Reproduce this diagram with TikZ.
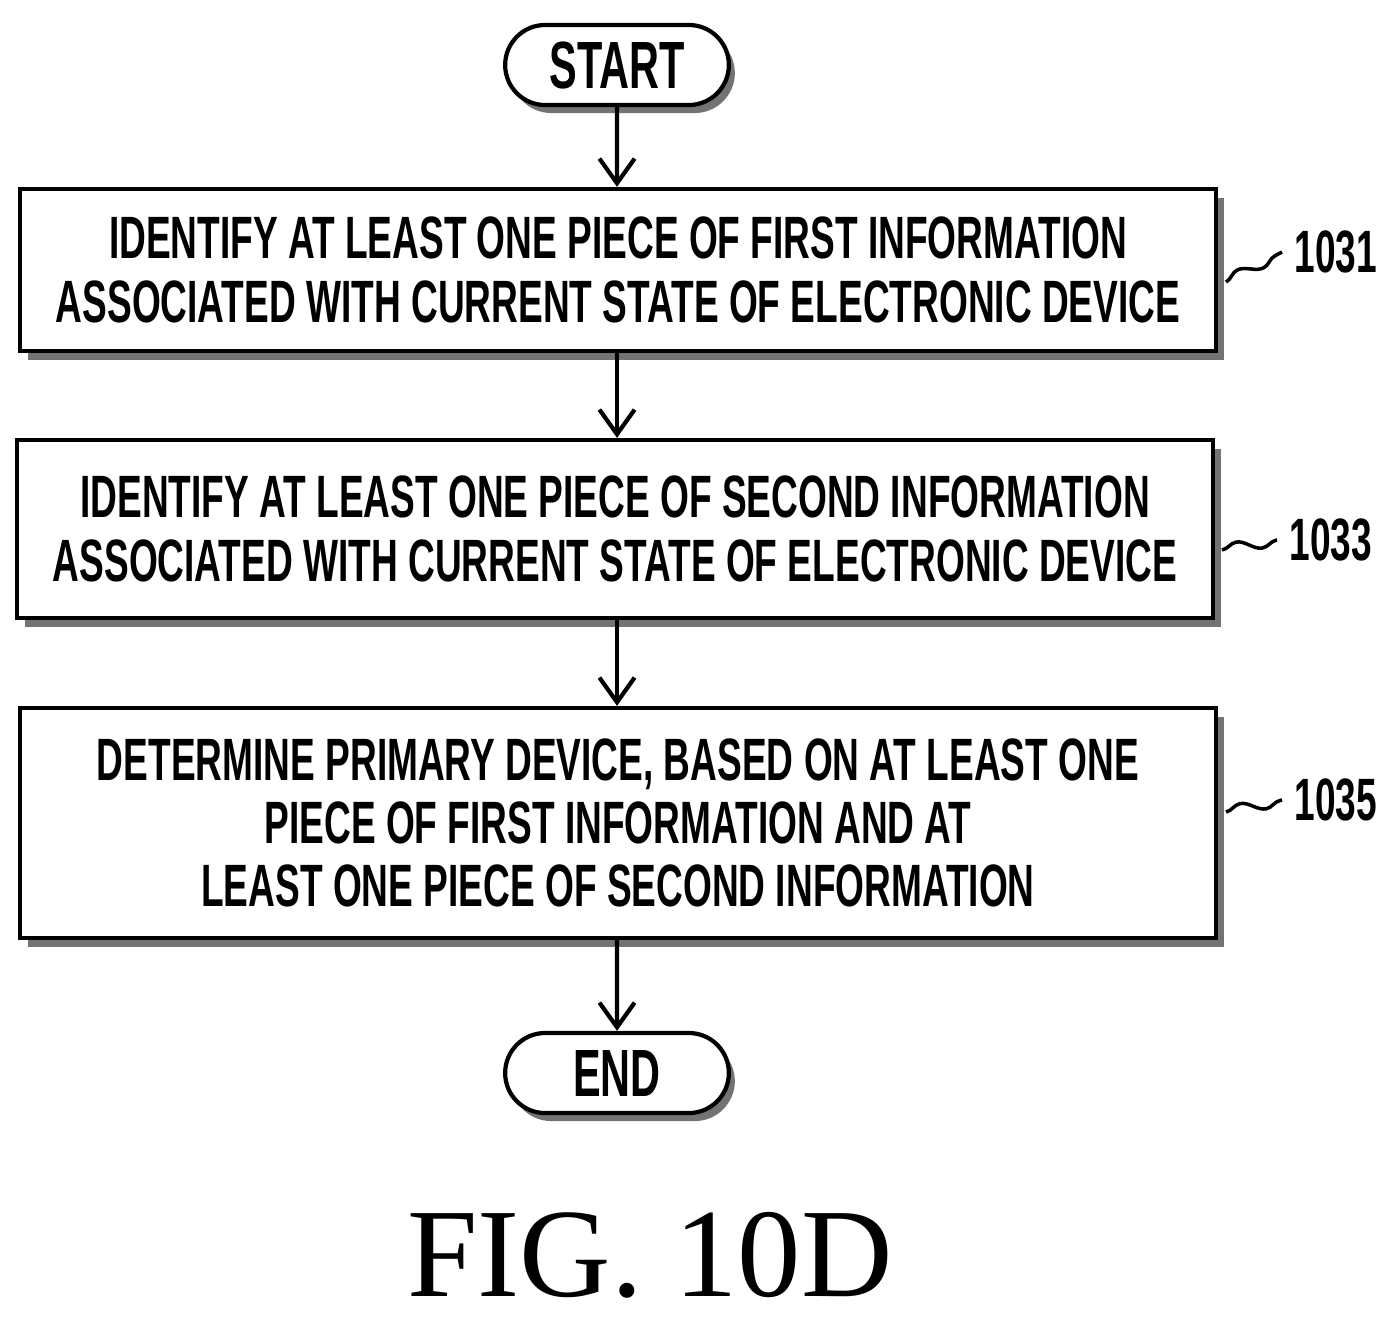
\documentclass[tikz,border=0pt]{standalone}
\usepackage{fontspec}
\setmainfont{Liberation Serif}
\newfontfamily\boxfont[FakeStretch=0.62]{Liberation Sans}
\usetikzlibrary{arrows.meta,shapes,positioning,calc,shadows,decorations.pathmorphing}

\begin{document}
\begin{tikzpicture}[
    x=0.01cm, y=-0.01cm,
    box/.style={rectangle, draw, line width=1.2pt, fill=white, minimum width=11.95cm, align=center,
        font=\boxfont\bfseries\fontsize{17}{18}\selectfont,
        drop shadow={shadow xshift=0.08cm, shadow yshift=-0.09cm, fill=black!55, opacity=1}},
    term/.style={rounded rectangle, draw, line width=1.2pt, fill=white, minimum width=2.47cm, minimum height=0.8cm,
        font=\boxfont\bfseries\fontsize{19}{22}\selectfont,
        drop shadow={shadow xshift=0.06cm, shadow yshift=-0.08cm, fill=black!55, opacity=1}},
    arrow/.style={-{Straight Barb[length=7pt,width=10pt]}, line width=1.2pt},
    tag/.style={font=\boxfont\bfseries\fontsize{17}{20}\selectfont, anchor=west},
    squig/.style={line width=1pt, decorate, decoration={snake, amplitude=1.5pt, segment length=14pt}}
]
    \useasboundingbox (0,0) rectangle (1398,1321);

    \node[term] (start) at (617,65) {START};
    \node[box, minimum height=1.62cm] (step1) at (618,270)
        {IDENTIFY AT LEAST ONE PIECE OF FIRST INFORMATION\\ASSOCIATED WITH CURRENT STATE OF ELECTRONIC DEVICE};
    \node[box, minimum height=1.78cm] (step2) at (615,529)
        {IDENTIFY AT LEAST ONE PIECE OF SECOND INFORMATION\\ASSOCIATED WITH CURRENT STATE OF ELECTRONIC DEVICE};
    \node[box, minimum height=2.3cm] (step3) at (618,823)
        {DETERMINE PRIMARY DEVICE, BASED ON AT LEAST ONE\\PIECE OF FIRST INFORMATION AND AT\\LEAST ONE PIECE OF SECOND INFORMATION};
    \node[term] (end) at (617,1073) {END};

    \draw[arrow] (start) -- (start |- step1.north);
    \draw[arrow] (step1.south -| start) -- (step2.north -| start);
    \draw[arrow] (step2.south -| start) -- (step3.north -| start);
    \draw[arrow] (step3.south -| start) -- (end);

    % step labels
    \node[tag] (l1031) at (1282,252) {1031};
    \node[tag] (l1033) at (1277,540) {1033};
    \node[tag] (l1035) at (1282,800) {1035};
    \draw[squig] (1226,282) -- (l1031.west);
    \draw[squig] (1222,550) -- (l1033.west);
    \draw[squig] (1226,812) -- (l1035.west);

    \node[font=\fontsize{36}{40}\selectfont] (fig) at (650,1255) {FIG. 10D};
\end{tikzpicture}
\end{document}
